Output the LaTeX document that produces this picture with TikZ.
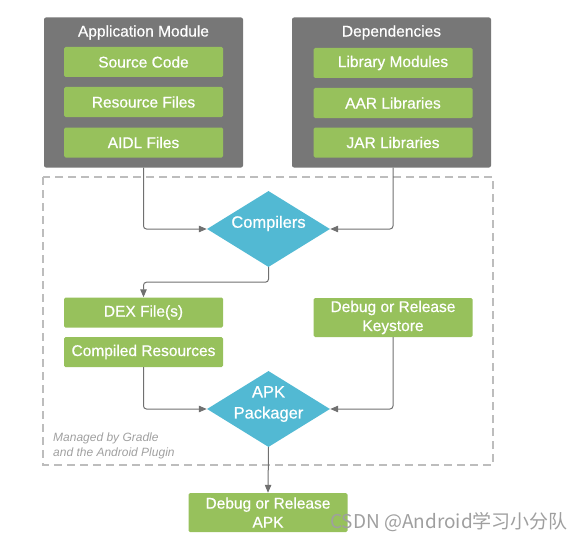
\documentclass[tikz,border=0pt]{standalone}
\usepackage{fontspec}
\setmainfont{Liberation Sans}
\newfontfamily\medfont[FakeBold=0.6]{Liberation Sans}
\newfontfamily\cjk{Noto Sans CJK SC}
\usetikzlibrary{shapes.geometric,arrows.meta}
\definecolor{modgray}{HTML}{777777}
\definecolor{filegreen}{HTML}{97C15C}
\definecolor{diacyan}{HTML}{52B9D3}
\definecolor{linegray}{HTML}{707070}
\definecolor{dashgray}{HTML}{BDBDBD}
\definecolor{notegray}{HTML}{A0A0A0}
\tikzset{
  modbox/.style={fill=modgray, rounded corners=2pt, inner sep=0pt, minimum width=199pt, minimum height=150pt},
  modtitle/.style={text=white, font=\medfont\fontsize{15.5}{17}\selectfont, inner sep=0pt},
  filebox/.style={fill=filegreen, text=white, rounded corners=1.5pt, inner sep=0pt,
    minimum width=159pt, minimum height=30pt, align=center,
    font=\medfont\fontsize{15.5}{18}\selectfont},
  decision/.style={diamond, fill=diacyan, inner sep=0pt,
    minimum width=123pt, minimum height=76pt},
  diatext/.style={text=white, inner sep=0pt, align=center, font=\medfont\fontsize{16.5}{21}\selectfont},
  conn/.style={draw=linegray, line width=1pt, rounded corners=3pt,
    -{Triangle[length=8pt,width=6.5pt]}},
}
\begin{document}
\begin{tikzpicture}[x=1pt,y=-1pt]
\useasboundingbox (0,0) rectangle (584,543);
% managed region
\draw[dashgray, line width=1.4pt, dash pattern=on 8pt off 5pt] (43,177) rectangle (493,465);
\node[notegray, anchor=west, align=left, inner sep=0pt, font=\fontsize{12}{14.5}\selectfont\itshape] (note) at (53,446) {Managed by Gradle\\and the Android Plugin};
% modules
\node[modbox] (appmod) at (143.5,92.5) {};
\node[modtitle] (apptitle) at (143.5,32.5) {Application Module};
\node[filebox] (src) at (143.5,62) {Source Code};
\node[filebox] (res) at (143.5,102) {Resource Files};
\node[filebox] (aidl) at (143.5,142.5) {AIDL Files};
\node[modbox] (deps) at (391.5,92.5) {};
\node[modtitle] (depstitle) at (391.5,32.5) {Dependencies};
\node[filebox] (lib) at (393,63) {Library Modules};
\node[filebox] (aar) at (393,103) {AAR Libraries};
\node[filebox] (jar) at (393,142.5) {JAR Libraries};
% compilers
\node[decision] (comp) at (268.5,229) {};
\node[diatext] (comptext) at (268.5,223.5) {Compilers};
\node[filebox] (dex) at (143.5,312.5) {DEX File(s)};
\node[filebox] (cres) at (143.5,352) {Compiled Resources};
\node[filebox, minimum height=39pt, font=\medfont\fontsize{15.5}{19}\selectfont] (key) at (393,317.5) {Debug or Release\\Keystore};
\node[decision] (apk) at (268.5,409) {};
\node[diatext] (apktext) at (268.5,404) {APK\\Packager};
\node[filebox, minimum height=39pt, font=\medfont\fontsize{15.5}{19}\selectfont] (out) at (268,512.5) {Debug or Release\\APK};
% connectors
\draw[conn] (appmod.south) |- (comp.west);
\draw[conn] (deps.south -| key.center) |- (comp.east);
\draw[conn] (comp.south) -- ++(0,15) -| (dex.north);
\draw[conn] (cres.south) |- (apk.west);
\draw[conn] (key.south) |- (apk.east);
\draw[conn] (apk.south) -- (out.north);
% watermark
\node[anchor=west, inner sep=0pt, text=gray!75, font=\cjk\fontsize{19}{21}\selectfont] (wm) at (330,522) {CSDN @Android学习小分队};
\end{tikzpicture}
\end{document}
